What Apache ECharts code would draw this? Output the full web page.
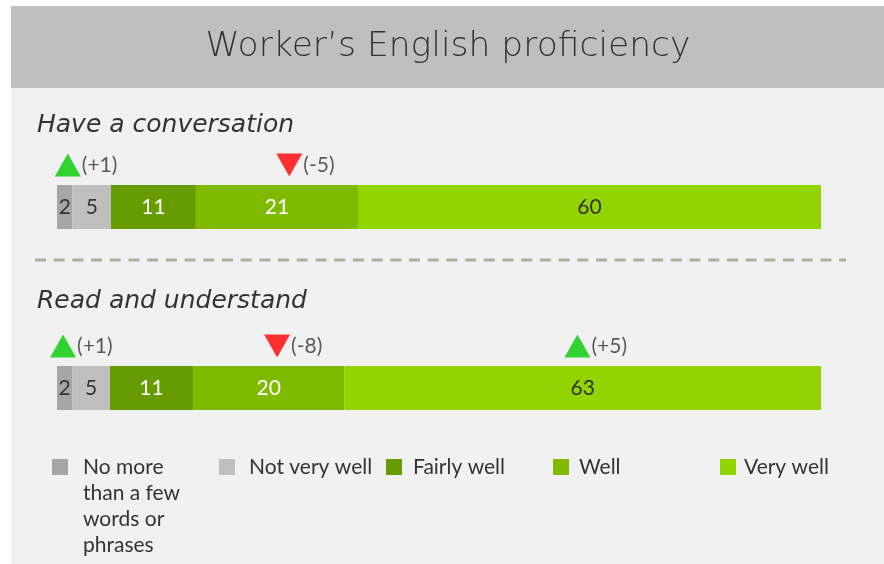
<!DOCTYPE html>
<html>
<head>
<meta charset="utf-8">
<script src="https://cdn.jsdelivr.net/npm/echarts@6/dist/echarts.min.js"></script>
<style>
html,body{margin:0;padding:0;background:#fff}
#main{width:884px;height:564px}
</style>
</head>
<body>
<div id="main"></div>
<script>
// 数据
var levels = ['No more than a few words or phrases', 'Not very well', 'Fairly well', 'Well', 'Very well'];
var legendText = ['{a|No more}\n{a|than a few}\n{a|words or}\n{a|phrases}', 'Not very well', 'Fairly well', 'Well', 'Very well'];
var rowNames = ['Have a conversation', 'Read and understand'];
var convValues = [2, 5, 11, 21, 60];
var readValues = [2, 5, 11, 20, 63];
// 变化标记 (位置, 变化值)
var convChangePos = [1.4, 30.1];
var convChange = [1, -5];
var readChangePos = [0.8, 29.1, 68.8];
var readChange = [1, -8, 5];

// 样式
var levelColors = ['#a6a6a6', '#bfbfbf', '#679c00', '#80ba00', '#92d400'];
var labelColors = ['#333333', '#333333', '#ffffff', '#ffffff', '#333333'];
var legendLeft = [52, 219, 386, 553, 720];
var legendPad = [10, 9, 6, 5, 3];
var font = 'Lato';

var rows = [
	{values: convValues, pos: convChangePos, chg: convChange, top: 141},
	{values: readValues, pos: readChangePos, chg: readChange, top: 322}
];

function sum(arr){
	var s = 0;
	for (var i = 0; i < arr.length; i++) s += arr[i];
	return s;
}
function each(arr, fn){
	for (var i = 0; i < arr.length; i++) fn(i, arr[i]);
}

var grids = [], xAxes = [], yAxes = [], series = [];

each(rows, function(r, row){
	grids.push({left: 57, width: 764, top: row.top, height: 88});
	xAxes.push({gridIndex: r, type: 'value', min: 0, max: sum(row.values), show: false});
	yAxes.push({gridIndex: r, type: 'category', data: ['bar', 'chg'], show: false});
	each(row.values, function(i, v){
		series.push({
			name: levels[i],
			type: 'bar',
			xAxisIndex: r,
			yAxisIndex: r,
			stack: 'row' + r,
			barWidth: 44,
			itemStyle: {color: levelColors[i]},
			label: {
				show: true,
				position: 'inside',
				formatter: '{c}',
				fontFamily: font,
				fontSize: 21,
				color: labelColors[i]
			},
			data: [v]
		});
	});
	var marks = [];
	each(row.pos, function(i, p){
		var d = row.chg[i];
		marks.push({
			value: [p, 'chg'],
			symbolRotate: d < 0 ? 180 : 0,
			itemStyle: {color: d < 0 ? '#ff0000' : '#00cc00'},
			label: {formatter: '(' + (d > 0 ? '+' : '') + d + ')'}
		});
	});
	series.push({
		type: 'scatter',
		xAxisIndex: r,
		yAxisIndex: r,
		symbol: 'triangle',
		symbolSize: [26, 23],
		symbolOffset: [0, 2],
		label: {
			show: true,
			position: 'right',
			distance: 1,
			fontFamily: font,
			fontSize: 21,
			color: '#333333'
		},
		data: marks
	});
});

var legends = [];
each(levels, function(i, name){
	legends.push({
		data: [name],
		left: legendLeft[i],
		top: i === 0 ? 376 : 454,
		padding: 0,
		icon: 'rect',
		itemWidth: 16,
		itemHeight: 16,
		selectedMode: false,
		formatter: function(n){ return legendText[levels.indexOf(n)]; },
		textStyle: {
			fontFamily: font,
			fontSize: 21,
			lineHeight: 26,
			color: '#333333',
			padding: [i === 0 ? 78 : 0, 0, 0, legendPad[i]],
			rich: i === 0 ? {a: {fontFamily: font, fontSize: 21, lineHeight: 26, color: '#333333'}} : undefined
		}
	});
});

var subStyle = {fontFamily: 'DejaVu Sans', fontStyle: 'italic', fontWeight: 'normal', fontSize: 25, color: '#333333'};

var myChart = echarts.init(document.getElementById('main'));
var option = {
	animation: false,
	title: [
		{
			text: 'Worker\u2019s English proficiency',
			left: 448,
			textAlign: 'center',
			top: 30,
			padding: 0,
			textStyle: {fontFamily: 'DejaVu Sans', fontWeight: 200, fontSize: 34.5, color: '#333333'}
		},
		{text: rowNames[0], left: 37, top: 113, padding: 0, textStyle: subStyle},
		{text: rowNames[1], left: 37, top: 289, padding: 0, textStyle: subStyle}
	],
	graphic: [
		{type: 'rect', shape: {x: 11, y: 6, width: 873, height: 82}, style: {fill: '#bfbfbf'}, silent: true},
		{type: 'rect', shape: {x: 11, y: 88, width: 873, height: 476}, style: {fill: '#f1f1f1'}, silent: true},
		{type: 'line', shape: {x1: 35, y1: 260, x2: 846, y2: 260}, style: {stroke: '#afafa1', lineWidth: 3, lineDash: [11, 7.7]}, silent: true}
	],
	legend: legends,
	grid: grids,
	xAxis: xAxes,
	yAxis: yAxes,
	series: series
};
myChart.setOption(option);
</script>
</body>
</html>
